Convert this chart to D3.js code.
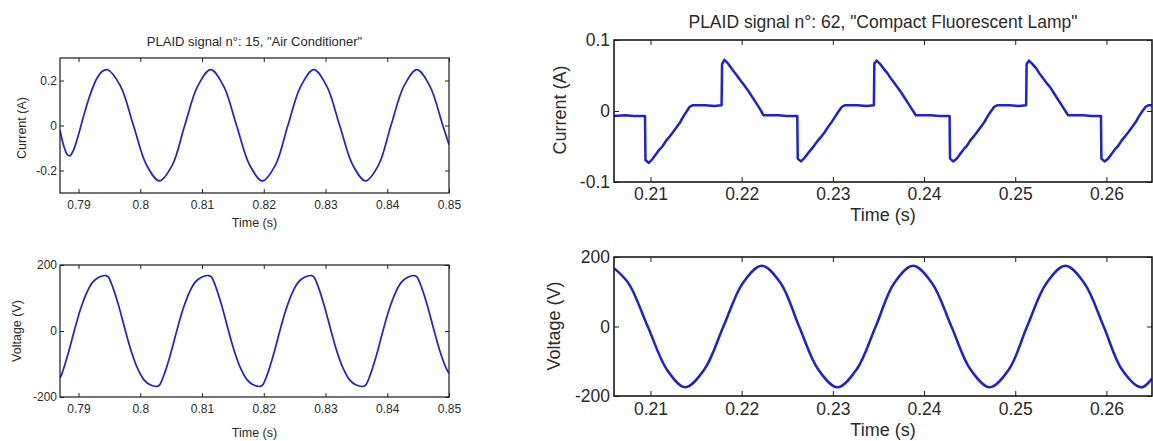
<!DOCTYPE html>
<html>
<head>
<meta charset="utf-8">
<script src="https://cdn.jsdelivr.net/npm/d3@7/dist/d3.min.js"></script>
<style>
  html, body { margin: 0; padding: 0; background: #ffffff; }
  svg { display: block; }
  text { font-family: "Liberation Sans", Arial, Helvetica, sans-serif; fill: #2b2b2b; }
</style>
</head>
<body>
<svg id="chart" width="1153" height="441"></svg>
<script>
// ---------------- DATA ----------------
// Titles & labels
const acTitle = 'PLAID signal n°: 15, "Air Conditioner"';
const cflTitle = 'PLAID signal n°: 62, "Compact Fluorescent Lamp"';

// Tick values
const acTimeTicks = [0.79, 0.8, 0.81, 0.82, 0.83, 0.84, 0.85];
const acCurrentTicks = [-0.2, 0, 0.2];
const acVoltageTicks = [-200, 0, 200];
const cflTimeTicks = [0.21, 0.22, 0.23, 0.24, 0.25, 0.26];
const cflCurrentTicks = [-0.1, 0, 0.1];
const cflVoltageTicks = [-200, 0, 200];

// Axis ranges
const acTimeRange = [0.787, 0.85];
const acCurrentRange = [-0.3, 0.3];
const acVoltageRange = [-200, 200];
const cflTimeRange = [0.206, 0.265];
const cflCurrentRange = [-0.1, 0.1];
const cflVoltageRange = [-200, 200];

// Air conditioner current [time s, current A]
const acCurrent = [
  [0.7870,-0.02],[0.7876,-0.09],[0.7882,-0.13],[0.7886,-0.135],[0.7891,-0.115],
  [0.7899,-0.05],[0.7908,0.04],[0.7918,0.13],[0.7928,0.20],[0.7938,0.24],
  [0.7947,0.248],[0.7968,0.175],[0.7989,0],[0.8010,-0.175],[0.8031,-0.246],
  [0.8052,-0.175],[0.8072,0],[0.8093,0.175],[0.8114,0.248],[0.8135,0.175],
  [0.8156,0],[0.8177,-0.175],[0.8198,-0.246],[0.8219,-0.175],[0.8239,0],
  [0.8260,0.175],[0.8281,0.248],[0.8302,0.175],[0.8323,0],[0.8344,-0.175],
  [0.8365,-0.246],[0.8386,-0.175],[0.8406,0],[0.8427,0.175],[0.8448,0.248],
  [0.8469,0.175],[0.8490,0],[0.8500,-0.085]
];

// Air conditioner voltage [time s, voltage V]
const acVoltage = [
  [0.7870,-142],[0.7873,-130],[0.7883,-70],[0.7893,0],[0.7903,65],[0.7913,115],
  [0.7923,148],[0.7933,163],[0.7944,168],[0.7948,164],[0.7956,130],[0.7966,70],
  [0.7976,0],[0.7986,-65],[0.7996,-115],[0.8006,-148],[0.8016,-163],[0.8027,-168],
  [0.8031,-164],[0.8039,-130],[0.8049,-70],[0.8059,0],[0.8069,65],[0.8079,115],
  [0.8089,148],[0.8099,163],[0.8111,168],[0.8115,164],[0.8123,130],[0.8133,70],
  [0.8143,0],[0.8153,-65],[0.8163,-115],[0.8173,-148],[0.8183,-163],[0.8194,-168],
  [0.8198,-164],[0.8206,-130],[0.8216,-70],[0.8226,0],[0.8236,65],[0.8246,115],
  [0.8256,148],[0.8266,163],[0.8277,168],[0.8281,164],[0.8289,130],[0.8299,70],
  [0.8309,0],[0.8319,-65],[0.8329,-115],[0.8339,-148],[0.8349,-163],[0.8361,-168],
  [0.8365,-164],[0.8373,-130],[0.8383,-70],[0.8393,0],[0.8403,65],[0.8413,115],
  [0.8423,148],[0.8433,163],[0.8444,168],[0.8448,164],[0.8456,130],[0.8466,70],
  [0.8476,0],[0.8486,-65],[0.8496,-115],[0.8500,-128]
];

// Compact fluorescent lamp current [time s, current A]
const cflCurrent = [
  [0.2060,-0.007],[0.2072,-0.006],[0.2082,-0.007],[0.2094,-0.007],
  [0.20945,-0.069],[0.2098,-0.073],[0.2102,-0.068],[0.2106,-0.061],[0.2110,-0.054],[0.2113,-0.050],
  [0.2117,-0.042],[0.2121,-0.036],[0.2124,-0.031],[0.2128,-0.024],[0.2132,-0.017],[0.2135,-0.010],
  [0.2139,-0.002],[0.2143,0.006],[0.2146,0.008],[0.2160,0.008],[0.2170,0.007],[0.2178,0.008],
  [0.21785,0.066],[0.2181,0.072],[0.2185,0.067],[0.2189,0.060],[0.2193,0.053],[0.2196,0.048],
  [0.2200,0.041],[0.2204,0.034],[0.2208,0.027],[0.2212,0.019],[0.2216,0.011],[0.2220,0.003],
  [0.2224,-0.006],[0.2240,-0.006],[0.2250,-0.007],[0.2261,-0.007],
  [0.22615,-0.067],[0.2265,-0.071],[0.2269,-0.066],[0.2273,-0.059],[0.2277,-0.053],[0.2280,-0.048],
  [0.2284,-0.041],[0.2288,-0.035],[0.2291,-0.030],[0.2295,-0.022],[0.2299,-0.015],[0.2302,-0.009],
  [0.2306,-0.001],[0.2310,0.006],[0.2313,0.008],[0.2327,0.008],[0.2337,0.007],[0.2345,0.008],
  [0.23455,0.067],[0.2348,0.071],[0.2352,0.066],[0.2356,0.059],[0.2360,0.053],[0.2363,0.047],
  [0.2367,0.040],[0.2371,0.033],[0.2375,0.026],[0.2379,0.018],[0.2383,0.010],[0.2387,0.002],
  [0.2391,-0.006],[0.2407,-0.006],[0.2417,-0.007],[0.2428,-0.007],
  [0.24285,-0.067],[0.2432,-0.071],[0.2436,-0.067],[0.2440,-0.060],[0.2444,-0.053],[0.2447,-0.049],
  [0.2451,-0.041],[0.2455,-0.035],[0.2458,-0.030],[0.2462,-0.023],[0.2466,-0.016],[0.2469,-0.009],
  [0.2473,-0.001],[0.2477,0.006],[0.2480,0.008],[0.2494,0.008],[0.2504,0.007],[0.2512,0.008],
  [0.25125,0.066],[0.2515,0.071],[0.2519,0.066],[0.2523,0.060],[0.2527,0.052],[0.2530,0.047],
  [0.2534,0.040],[0.2538,0.034],[0.2542,0.026],[0.2546,0.018],[0.2550,0.010],[0.2554,0.002],
  [0.2558,-0.006],[0.2574,-0.006],[0.2584,-0.007],[0.2594,-0.007],
  [0.25945,-0.067],[0.2598,-0.071],[0.2602,-0.067],[0.2606,-0.060],[0.2610,-0.053],[0.2613,-0.049],
  [0.2617,-0.041],[0.2621,-0.035],[0.2624,-0.030],[0.2628,-0.023],[0.2632,-0.016],[0.2635,-0.009],
  [0.2639,-0.001],[0.2643,0.006],[0.2646,0.008],[0.2650,0.008]
];

// Compact fluorescent lamp voltage [time s, voltage V]
const cflVoltage = [
  [0.2060,168],[0.2076,124],[0.2097,0],[0.2118,-124],[0.2138,-175],[0.2159,-124],
  [0.2180,0],[0.2201,124],[0.2222,175],[0.2243,124],[0.2263,0],[0.2284,-124],
  [0.2305,-175],[0.2326,-124],[0.2347,0],[0.2367,124],[0.2388,175],[0.2409,124],
  [0.2430,0],[0.2451,-124],[0.2472,-175],[0.2493,-124],[0.2513,0],[0.2534,124],
  [0.2555,175],[0.2576,124],[0.2597,0],[0.2617,-124],[0.2638,-175],[0.2650,-150]
];

// ---------------- DRAWING ----------------
const svg = d3.select("#chart");
const lineColor = "#2020d4";

function drawPanel(cfg) {
  const x = d3.scaleLinear().domain(cfg.xDomain).range([cfg.left, cfg.right]);
  const y = d3.scaleLinear().domain(cfg.yDomain).range([cfg.bottom, cfg.top]);
  const g = svg.append("g");
  const id = "clip" + cfg.id;
  g.append("clipPath").attr("id", id).append("rect")
    .attr("x", cfg.left).attr("y", cfg.top)
    .attr("width", cfg.right - cfg.left).attr("height", cfg.bottom - cfg.top);

  const line = d3.line().x(d => x(d[0])).y(d => y(d[1])).curve(cfg.curve);
  g.append("path").datum(cfg.data)
    .attr("clip-path", `url(#${id})`)
    .attr("fill", "none").attr("stroke", lineColor)
    .attr("stroke-width", cfg.lw).attr("stroke-linejoin", "round")
    .attr("d", line);

  const fmt = d => String(d);
  g.append("g").attr("transform", `translate(0,${cfg.bottom})`)
    .call(d3.axisBottom(x).tickValues(cfg.xTicks).tickFormat(fmt)
      .tickSizeInner(-cfg.tick).tickSizeOuter(0).tickPadding(cfg.xPad));
  g.append("g").attr("transform", `translate(0,${cfg.top})`)
    .call(d3.axisTop(x).tickValues(cfg.xTicks).tickFormat("")
      .tickSizeInner(-cfg.tick).tickSizeOuter(0));
  g.append("g").attr("transform", `translate(${cfg.left},0)`)
    .call(d3.axisLeft(y).tickValues(cfg.yTicks).tickFormat(fmt)
      .tickSizeInner(-cfg.tick).tickSizeOuter(0).tickPadding(cfg.yPad));
  g.append("g").attr("transform", `translate(${cfg.right},0)`)
    .call(d3.axisRight(y).tickValues(cfg.yTicks).tickFormat("")
      .tickSizeInner(-cfg.tick).tickSizeOuter(0));

  g.selectAll(".domain").remove();
  g.selectAll(".tick line").attr("stroke", "#222").attr("stroke-width", 1);
  g.selectAll(".tick text").attr("font-size", cfg.tickFont).attr("fill", "#2b2b2b")
    .attr("font-family", '"Liberation Sans", Arial, sans-serif');

  g.append("rect").attr("x", cfg.left).attr("y", cfg.top)
    .attr("width", cfg.right - cfg.left).attr("height", cfg.bottom - cfg.top)
    .attr("fill", "none").attr("stroke", "#1a1a1a").attr("stroke-width", cfg.boxW);

  g.append("text").attr("x", (cfg.left + cfg.right) / 2).attr("y", cfg.xLabelY)
    .attr("text-anchor", "middle").attr("font-size", cfg.labelFont).text("Time (s)");
  g.append("text").attr("transform", `translate(${cfg.yLabelX},${cfg.yLabelY}) rotate(-90)`)
    .attr("text-anchor", "middle").attr("font-size", cfg.labelFont).text(cfg.yLabel);
  if (cfg.title) {
    g.append("text").attr("x", cfg.titleX).attr("y", cfg.titleY)
      .attr("text-anchor", "middle").attr("font-size", cfg.titleFont).text(cfg.title);
  }
}

const smooth = d3.curveCatmullRom.alpha(0.5);

drawPanel({
  id: "a", data: acCurrent, xDomain: acTimeRange, yDomain: acCurrentRange,
  xTicks: acTimeTicks, yTicks: acCurrentTicks, curve: smooth,
  left: 60, right: 449, top: 58, bottom: 193,
  lw: 1.7, tick: 4, boxW: 1.2, tickFont: 12, labelFont: 12.5, xPad: 7, yPad: 3,
  xLabelY: 227, yLabelX: 26, yLabelY: 128, yLabel: "Current (A)",
  title: acTitle, titleX: 254.5, titleY: 46, titleFont: 13
});
drawPanel({
  id: "b", data: acVoltage, xDomain: acTimeRange, yDomain: acVoltageRange,
  xTicks: acTimeTicks, yTicks: acVoltageTicks, curve: smooth,
  left: 60, right: 449, top: 265, bottom: 397,
  lw: 1.7, tick: 4, boxW: 1.2, tickFont: 12, labelFont: 12.5, xPad: 7, yPad: 3,
  xLabelY: 437, yLabelX: 21, yLabelY: 331, yLabel: "Voltage (V)"
});
drawPanel({
  id: "c", data: cflCurrent, xDomain: cflTimeRange, yDomain: cflCurrentRange,
  xTicks: cflTimeTicks, yTicks: cflCurrentTicks, curve: d3.curveLinear,
  left: 614, right: 1152, top: 40, bottom: 182,
  lw: 2.5, tick: 5, boxW: 1.6, tickFont: 17.5, labelFont: 18, xPad: 6, yPad: 4,
  xLabelY: 221, yLabelX: 566, yLabelY: 110, yLabel: "Current (A)",
  title: cflTitle, titleX: 883, titleY: 28, titleFont: 17.5
});
drawPanel({
  id: "d", data: cflVoltage, xDomain: cflTimeRange, yDomain: cflVoltageRange,
  xTicks: cflTimeTicks, yTicks: cflVoltageTicks, curve: smooth,
  left: 614, right: 1152, top: 257, bottom: 396,
  lw: 2.5, tick: 5, boxW: 1.6, tickFont: 17.5, labelFont: 18, xPad: 7, yPad: 4,
  xLabelY: 436, yLabelX: 560, yLabelY: 326, yLabel: "Voltage (V)"
});
</script>
</body>
</html>
